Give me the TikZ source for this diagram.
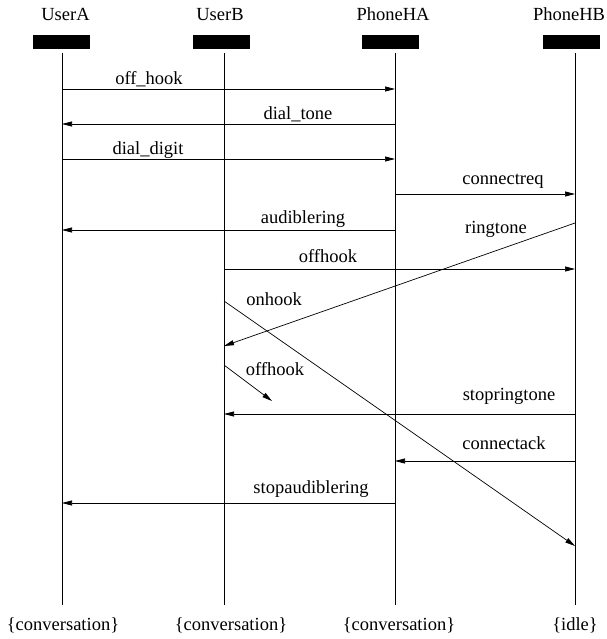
\documentclass[tikz,border=0pt]{standalone}
\usepackage{fontspec}
\setmainfont{Liberation Serif}
\usetikzlibrary{arrows.meta}
\begin{document}
\begin{tikzpicture}[x=1pt,y=-1pt,>={Triangle[length=10pt,width=5pt]},line join=round,line width=.7pt,font=\fontsize{18.5}{22}\selectfont]
	\tikzset{headbox/.style={fill=black,minimum width=57pt,minimum height=14pt,inner sep=0pt},
		lbl/.style={anchor=base,inner sep=0pt}}
	\useasboundingbox (0,0) rectangle (606,639);
	% participants and lifelines
	\foreach \n/\x/\lx/\bx/\ex/\name/\state in {A/62/65.5/61.5/63/UserA/conversation,B/224/220/221.5/231/UserB/conversation,HA/395/393/390.5/399/PhoneHA/conversation,HB/575/569/571/575/PhoneHB/idle}{
		\node[lbl] (name\n) at (\lx,21) {\name};
		\node[headbox] (box\n) at (\bx,42) {};
		\coordinate (\n) at (\x,53);
		\draw (\n) -- (\n|-0,605);
		\node[lbl] (end\n) at (\ex,630) {\{\state\}};
	}
	% horizontal messages
	\foreach \s/\t/\y/\m/\mx/\my [count=\i] in {A/HA/89/off\_hook/149/85,HA/A/124/dial\_tone/298/120,A/HA/159/dial\_digit/148/155,HA/HB/194/connectreq/503/185,HA/A/230/audiblering/303/223,B/HB/269/offhook/328/262,HB/B/414/stopringtone/509/400,HB/HA/461/connectack/504/449,HA/A/503/stopaudiblering/311/493}{
		\draw[->] (\s|-0,\y) -- (\t|-0,\y);
		\node[lbl] (msg\i) at (\mx,\my) {\m};
	}
	% crossing messages
	\draw[->] (HB|-0,223) -- (B|-0,346);
	\node[lbl] (ring) at (496,233) {ringtone};
	\draw[->] (B|-0,301) -- (HB|-0,546);
	\node[lbl] (onhook) at (274,305) {onhook};
	\coordinate (offend) at (272,401);
	\draw[->] (B|-0,365) -- (offend);
	\node[lbl] (offhook) at (275,375) {offhook};
\end{tikzpicture}
\end{document}
